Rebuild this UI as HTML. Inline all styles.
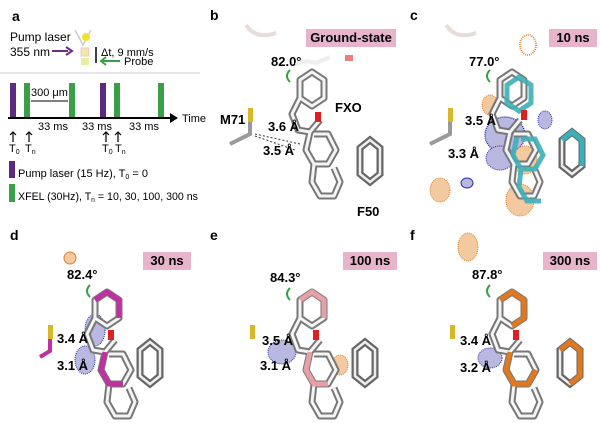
<!DOCTYPE html>
<html><head><style>
body{margin:0;background:#fff;}
svg{display:block;font-family:"Liberation Sans",sans-serif;}
.lb{font-weight:bold;font-size:14px;}
.t{font-size:11px;}
.bt{font-weight:bold;font-size:13px;}
</style></head><body>
<svg width="600" height="445" viewBox="0 0 600 445">
<defs>
<g id="mol">
 <path d="M0 0 l12 -8 l12 8 l0 18 l-12 8 l-12 -8z M0 18 l-8 16 l6 16 l12 2 l10 -12 M10 52 l-4 18 l8 14 l14 0 l8 -14 l-8 -16 l-14 0 M14 84 l-2 18 l8 14 l14 0 l6 -14 l-6 -14" fill="none" stroke="#777" stroke-width="7" stroke-linejoin="round"/>
 <path d="M0 0 l12 -8 l12 8 l0 18 l-12 8 l-12 -8z M0 18 l-8 16 l6 16 l12 2 l10 -12 M10 52 l-4 18 l8 14 l14 0 l8 -14 l-8 -16 l-14 0 M14 84 l-2 18 l8 14 l14 0 l6 -14 l-6 -14" fill="none" stroke="#f4f4f4" stroke-width="3" stroke-linejoin="round"/>
</g>
<g id="phe">
 <path d="M0 0 l10 -8 l10 8 l0 26 l-10 8 l-10 -8z" fill="none" stroke="#666" stroke-width="7"/>
 <path d="M0 0 l10 -8 l10 8 l0 26 l-10 8 l-10 -8z" fill="none" stroke="#eee" stroke-width="2.5"/>
</g>
</defs>

<!-- Panel a -->
<text x="12" y="21" class="lb">a</text>
<text x="10" y="41" class="t" style="font-size:12px">Pump laser</text>
<text x="10" y="56" class="t" style="font-size:12px">355 nm</text>
<line x1="52" y1="51" x2="68" y2="51" stroke="#6a2d8a" stroke-width="2"/>
<path d="M66 47 l6 4 l-6 4" fill="none" stroke="#6a2d8a" stroke-width="2"/>
<path d="M75 30 l8 15 l8 -15" fill="none" stroke="#ccc" stroke-width="1.5"/>
<circle cx="86" cy="37" r="4" fill="#f0e030"/>
<rect x="81" y="48" width="8" height="8" fill="#f3e8a0" stroke="#e8c8d8"/>
<rect x="81" y="58" width="8" height="7" fill="#e8f0a0"/>
<line x1="96" y1="47" x2="96" y2="63" stroke="#000" stroke-width="1.5"/>
<text x="101" y="56" class="t">Δt, 9 mm/s</text>
<line x1="102" y1="61" x2="120" y2="61" stroke="#3aa048" stroke-width="2"/>
<path d="M106 57 l-5 4 l5 4" fill="none" stroke="#3aa048" stroke-width="2"/>
<text x="124" y="65" class="t">Probe</text>
<line x1="0" y1="73" x2="200" y2="73" stroke="#ccc" stroke-width="1"/>
<g>
 <rect x="10" y="83" width="6" height="35" fill="#5c2a7e"/>
 <rect x="24" y="83" width="6" height="35" fill="#3aa048"/>
 <rect x="69" y="83" width="6" height="35" fill="#3aa048"/>
 <rect x="100" y="83" width="6" height="35" fill="#5c2a7e"/>
 <rect x="114" y="83" width="6" height="35" fill="#3aa048"/>
 <rect x="158" y="83" width="6" height="35" fill="#3aa048"/>
 <line x1="8" y1="118" x2="174" y2="118" stroke="#000" stroke-width="2"/>
 <path d="M170 113 l8 5 l-8 5z"/>
 <text x="182" y="122" class="t">Time</text>
 <line x1="31" y1="101" x2="68" y2="101" stroke="#000"/>
 <text x="31" y="96" class="t">300 μm</text>
 <text x="38" y="130" class="t">33 ms</text>
 <text x="82" y="130" class="t">33 ms</text>
 <text x="129" y="130" class="t">33 ms</text>
 <g stroke="#000" stroke-width="1.2" fill="none">
  <path d="M13 142 v-10 M10 135 l3 -3 l3 3"/>
  <path d="M29 142 v-10 M26 135 l3 -3 l3 3"/>
  <path d="M106 142 v-10 M103 135 l3 -3 l3 3"/>
  <path d="M118 142 v-10 M115 135 l3 -3 l3 3"/>
 </g>
 <g class="t">
  <text x="9" y="152">T<tspan font-size="7" dy="2">0</tspan></text>
  <text x="25" y="152">T<tspan font-size="7" dy="2">n</tspan></text>
  <text x="102" y="152">T<tspan font-size="7" dy="2">0</tspan></text>
  <text x="115" y="152">T<tspan font-size="7" dy="2">n</tspan></text>
 </g>
 <rect x="9" y="161" width="6" height="17" fill="#5c2a7e"/>
 <text x="18" y="177" class="t">Pump laser (15 Hz), T<tspan font-size="7" dy="2">0</tspan><tspan dy="-2"> = 0</tspan></text>
 <rect x="9" y="184" width="6" height="18" fill="#3aa048"/>
 <text x="18" y="200" class="t" textLength="180" lengthAdjust="spacingAndGlyphs">XFEL (30Hz), T<tspan font-size="7" dy="2">n</tspan><tspan dy="-2"> = 10, 30, 100, 300 ns</tspan></text>
</g>

<!-- Panel b -->
<text x="210" y="20" class="lb">b</text>
<path d="M246 25 q10 15 30 8" fill="none" stroke="#e8dcd8" stroke-width="4"/>
<rect x="306" y="29" width="90" height="18" fill="#e8b4cc"/>
<text x="351" y="42" class="bt" text-anchor="middle">Ground-state</text>
<text x="271" y="66" class="bt">82.0°</text>
<path d="M296 65 q8 -6 20 -2 l14 -6" fill="none" stroke="#eee" stroke-width="4"/>
<rect x="345" y="55" width="8" height="6" fill="#e88080"/>
<path d="M290 70 q-6 6 0 12" fill="none" stroke="#3aa048" stroke-width="2"/>
<g transform="translate(300,80)"><use href="#mol"/></g>
<rect x="315" y="112" width="6" height="10" fill="#e02020"/>
<text x="335" y="112" class="bt">FXO</text>
<text x="220" y="124" class="bt">M71</text>
<rect x="248" y="108" width="5" height="14" fill="#d8b828"/>
<path d="M250 122 l0 12 l-20 10" fill="none" stroke="#999" stroke-width="4"/>
<text x="268" y="131" class="bt">3.6 Å</text>
<text x="263" y="155" class="bt">3.5 Å</text>
<path d="M255 134 l45 10 M255 136 l40 14" stroke="#333" stroke-dasharray="2,2"/>
<g transform="translate(360,148)"><use href="#phe"/></g>
<text x="357" y="216" class="bt">F50</text>

<!-- Panel c -->
<text x="410" y="20" class="lb">c</text>
<path d="M446 25 q10 15 30 8" fill="none" stroke="#e8dcd8" stroke-width="4"/>
<rect x="549" y="29" width="48" height="18" fill="#e8b4cc"/>
<text x="573" y="42" class="bt" text-anchor="middle">10 ns</text>
<text x="469" y="66" class="bt">77.0°</text>
<ellipse cx="528" cy="45" rx="8" ry="10" fill="none" stroke="#e89040" stroke-width="2" stroke-dasharray="1,1"/>
<path d="M490 70 q-6 6 0 12" fill="none" stroke="#3aa048" stroke-width="2"/>
<ellipse cx="490" cy="105" rx="8" ry="10" fill="#f3c9a0" stroke="#e08030" stroke-dasharray="1,1"/>
<ellipse cx="505" cy="135" rx="20" ry="18" fill="#b8b8e0" stroke="#3030a0" stroke-width="1.5" stroke-dasharray="1,1"/>
<ellipse cx="500" cy="158" rx="14" ry="12" fill="#b8b8e0" stroke="#3030a0" stroke-dasharray="1,1"/>
<ellipse cx="525" cy="160" rx="12" ry="14" fill="#f3c9a0" stroke="#e08030" stroke-dasharray="1,1"/>
<ellipse cx="520" cy="200" rx="14" ry="16" fill="#f3c9a0" stroke="#e08030" stroke-dasharray="1,1"/>
<ellipse cx="440" cy="190" rx="10" ry="12" fill="#f3c9a0" stroke="#e08030" stroke-dasharray="1,1"/>
<ellipse cx="467" cy="183" rx="6" ry="5" fill="#b8b8e0" stroke="#3030a0"/>
<ellipse cx="545" cy="120" rx="7" ry="9" fill="#b8b8e0" stroke="#3030a0" stroke-dasharray="1,1"/>
<g transform="translate(500,80)"><use href="#mol"/></g>
<g transform="translate(507,85)" opacity="0.9"><path d="M0 0 l12 -8 l12 8 l0 18 l-12 8 l-12 -8z M10 52 l-4 18 l8 14 l14 0 l8 -14 l-8 -16 l-14 0 M14 84 l-2 18 l8 14 l14 0" fill="none" stroke="#3cb0b8" stroke-width="5"/></g>
<rect x="521" y="110" width="6" height="10" fill="#e02020"/>
<rect x="448" y="108" width="5" height="14" fill="#d8b828"/>
<path d="M450 122 l0 12 l-20 10" fill="none" stroke="#999" stroke-width="4"/>
<text x="465" y="125" class="bt">3.5 Å</text>
<text x="448" y="158" class="bt">3.3 Å</text>
<g transform="translate(562,140)"><use href="#phe"/></g>
<path d="M562 140 l10 -8 l10 8 l0 26" fill="none" stroke="#3cb0b8" stroke-width="5"/>

<!-- d -->
<g>
<text x="10" y="240" class="lb">d</text>
<rect x="143" y="252" width="48" height="18" fill="#e8b4cc"/>
<text x="167" y="265" class="bt" text-anchor="middle">30 ns</text>
<text x="67" y="279" class="bt">82.4°</text>
<path d="M90 285 q-6 6 0 12" fill="none" stroke="#3aa048" stroke-width="2"/>
<ellipse cx="95" cy="330" rx="10" ry="16" fill="#b8b8e0" stroke="#3030a0" stroke-dasharray="1,1"/>
<ellipse cx="85" cy="360" rx="10" ry="14" fill="#b8b8e0" stroke="#3030a0" stroke-dasharray="1,1"/>
<ellipse cx="70" cy="258" rx="6" ry="6" fill="#f3c9a0" stroke="#e08030"/>
<g transform="translate(95,300)"><use href="#mol"/></g>
<path d="M95 300 l12 -8 l12 8 l0 18 M105 352 l-4 18 l8 14 l14 0" fill="none" stroke="#c030a0" stroke-width="5"/>
<rect x="108" y="330" width="6" height="10" fill="#e02020"/>
<rect x="48" y="325" width="5" height="14" fill="#d8b828"/>
<path d="M50 339 l0 12 l-10 6" fill="none" stroke="#c030a0" stroke-width="4"/>
<text x="57" y="343" class="bt">3.4 Å</text>
<text x="57" y="370" class="bt">3.1 Å</text>
<g transform="translate(140,350)"><use href="#phe"/></g>
</g>
<!-- e -->
<g>
<text x="210" y="240" class="lb">e</text>
<rect x="343" y="252" width="54" height="18" fill="#e8b4cc"/>
<text x="370" y="265" class="bt" text-anchor="middle">100 ns</text>
<text x="270" y="282" class="bt">84.3°</text>
<path d="M290 288 q-6 6 0 12" fill="none" stroke="#3aa048" stroke-width="2"/>
<ellipse cx="282" cy="352" rx="14" ry="12" fill="#b8b8e0" stroke="#3030a0" stroke-dasharray="1,1"/>
<ellipse cx="340" cy="365" rx="8" ry="10" fill="#f3c9a0" stroke="#e08030" stroke-dasharray="1,1"/>
<g transform="translate(300,300)"><use href="#mol"/></g>
<path d="M300 300 l12 -8 l12 8 l0 18 M310 352 l-4 18 l8 14 l14 0" fill="none" stroke="#e8a0a8" stroke-width="5"/>
<rect x="313" y="330" width="6" height="10" fill="#e02020"/>
<rect x="250" y="325" width="5" height="14" fill="#d8b828"/>
<text x="262" y="345" class="bt">3.5 Å</text>
<text x="260" y="370" class="bt">3.1 Å</text>
<g transform="translate(355,350)"><use href="#phe"/></g>
</g>
<!-- f -->
<g>
<text x="410" y="240" class="lb">f</text>
<rect x="543" y="252" width="54" height="18" fill="#e8b4cc"/>
<text x="570" y="265" class="bt" text-anchor="middle">300 ns</text>
<text x="472" y="279" class="bt">87.8°</text>
<ellipse cx="468" cy="247" rx="10" ry="14" fill="#f3c9a0" stroke="#e08030" stroke-dasharray="1,1"/>
<path d="M490 285 q-6 6 0 12" fill="none" stroke="#3aa048" stroke-width="2"/>
<ellipse cx="490" cy="358" rx="12" ry="10" fill="#b8b8e0" stroke="#3030a0" stroke-dasharray="1,1"/>
<g transform="translate(500,300)"><use href="#mol"/></g>
<path d="M500 300 l12 -8 l12 8 l0 18 l-12 8 M510 352 l-4 18 l8 14 l14 0 l8 -14" fill="none" stroke="#e07820" stroke-width="5"/>
<rect x="513" y="330" width="6" height="10" fill="#e02020"/>
<rect x="450" y="325" width="5" height="14" fill="#d8b828"/>
<text x="460" y="345" class="bt">3.4 Å</text>
<text x="460" y="372" class="bt">3.2 Å</text>
<g transform="translate(560,350)"><use href="#phe"/></g>
<path d="M560 350 l10 -8 l10 8 l0 26 l-10 8" fill="none" stroke="#e07820" stroke-width="5"/>
</g>
</svg>
</body></html>
